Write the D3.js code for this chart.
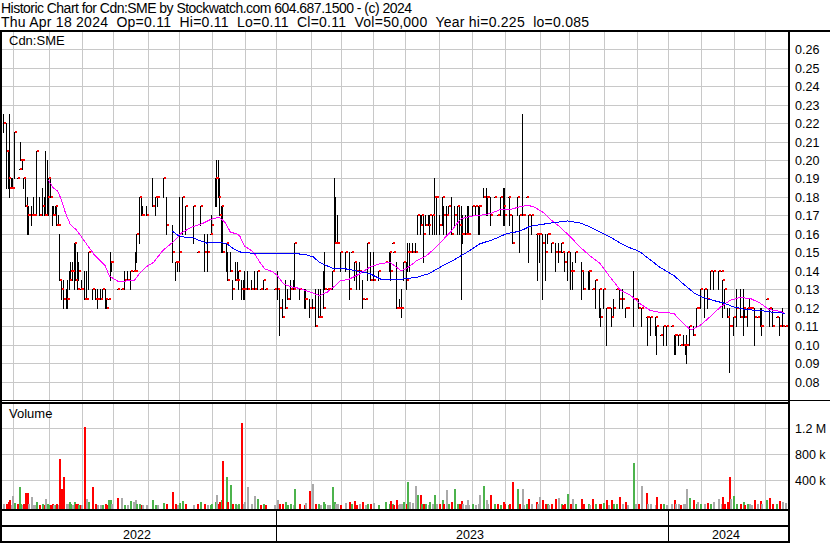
<!DOCTYPE html>
<html><head><meta charset="utf-8">
<script src="https://cdn.jsdelivr.net/npm/d3@7/dist/d3.min.js"></script>
<style>
body{margin:0;background:#fff;}
svg{display:block;font-family:Arial,"Liberation Sans",sans-serif;}
text{white-space:pre;}
</style></head><body>
<svg id="c" width="830" height="543"></svg>
<script>
// ---------- data ----------
const titleLine1 = "Historic Chart for Cdn:SME by Stockwatch.com 604.687.1500 - (c) 2024";
const titleLine2 = "Thu Apr 18 2024  Op=0.11  Hi=0.11  Lo=0.11  Cl=0.11  Vol=50,000  Year hi=0.225  lo=0.085";
const symbolLabel = "Cdn:SME";
const volumeLabel = "Volume";
const priceTicks = [26,25,24,23,22,21,20,19,18,17,16,15,14,13,12,11,10,9,8]; // cents
const volTicks = [1200,800,400]; // thousands
const volTickLabels = ["1.2 M","800 k","400 k"];
const years = ["2022","2023","2024"];
const yearStartSess = [0,175,425];
const lastSess = 499;
const monthStartSess = [7,30,51,71,93,113,134,155,175,197,216,237,257,279,300,321,343,362,384,405,425,446,467,487];

// trading session index (0 = first session shown)
const sess = [0,2,3,4,5,6,7,9,10,11, 12,13,14,15,16,18,19,20,21,23, 25,26,27,28,29,30,31,32,33,34,
 35,36,37,38,40,41,42,43,44,45, 46,47,48,49,50,52,53,54,57,59, 60,62,63,65,66,67,68,69,73,75,
 77,79,81,83,84,85,87,88,89,91, 95,97,98,102,104,108,110,111,112,114, 116,121,124,126,128,130,132,133,135,136,
 137,138,139,140,142,143,145,146,148,149, 150,152,153,154,156,158,160,162,164,166, 167,173,175,176,178,180,181,183,185,186,
 189,192,193,195,197,199,201,202,204,205, 207,208,210,211,212,213,215,218,221,222, 224,225,227,229,231,232,234,236,239,244,
 246,247,248,249,251,252,253,254,255,257, 258,259,261,263,264,266,267,268,269,271, 272,274,275,276,278,280,281,283,284,286,
 288,290,291,292,293,295,296,297,299,301, 303,304,306,308,309,311,313,315,317,319, 320,322,323,325,328,329,331,332,334,335,
 337,340,341,342,344,346,347,348,350,352, 354,356,357,358,360,362,363,365,369,370, 373,374,376,378,380,381,383,385,386,388,
 389,391,393,395,397,398,402,403,405,407, 410,411,413,416,417,419,421,423,426,428, 429,431,432,434,435,436,438,440,442,443,
 445,447,449,451,453,456,458,459,460,462, 463,464,466,468,470,472,473,475,476,477, 479,481,483,484,487,489,491,493,495,497,499];
// prices in cents
const high = [22.5,22,20.5,22.5,19,19,21.5,19,19.5,21, 20,19,19,18,17.5,17.5,18,17,20.5,18, 18.5,18,20.5,20,19,19,17.5,17.5,17.5,17.5,
 17,16,13.5,13.5,13,13.5,14,14.5,14.5,15.5, 15.5,15,14.5,13,13.5,14,14,15,13,13, 13,13,13,13,12.5,12.5,15,14.5,13,13,
 14,14,14,14,15,16,18,18,17.5,17.5, 19,18,18,19,18,16.5,14.5,14.5,18,18, 17.5,17.5,15,17.5,16,16,16,17,19,20,
 20,19,17.5,17.5,15.5,15,15,13.5,14.5,14.5, 14,13.5,13.5,14,14,13.5,14,14,13,13.5, 13,13,14,13,12.5,13.5,13,13.5,13.5,15.5,
 13,13,13,12.5,12.5,13,13,13,14,15, 13,13,14,19,18,17,15,15,15,15, 14.5,14.5,14.5,13.5,12.5,15.5,15,15,14,14.5,
 15,15,15.5,15,14.5,12,12.5,13,14.5,14.5, 15.5,15.5,15.5,15.5,17,17,17,17,17,17, 17,17,19,18,17,18,17.5,17.5,17.5,18,
 17.5,17.5,17.5,17.5,17,17,17.5,17.5,17.5,17.5, 17.5,17.5,18.5,18.5,18,18,18,17,18,18.5, 18.5,18,18,17,18,17,22.5,17,18,17,
 17,16,16,16,16,16,16,16,15.5,15.5, 15.5,15.5,15,15,15,15,14.5,15,14.5,14, 14,14,13,13.5,13,12,13,12,12,12,
 12.5,13,13,13,12,12,14,12.5,12.5,12, 11.5,11.5,11.5,11.5,11,10.5,11,11,11,10.5, 10.5,10.5,10,10.5,10,10.5,11,11,12,12,
 13,13,13,14,14,14,14,13.5,13,12, 12,11,11.5,13,13,13,12,12,12.5,12, 12,11.5,12,12,12.5,12,12,11.5,11.5,12,11];
const low = [21.5,18.5,18.5,18,18.5,18.5,19,19,19.5,20, 19.5,18.5,17.5,16,16,16.5,17,17,17,17, 17,17,17,17,17,18,16.5,17,17,16.5,
 16.5,13.5,12.5,12,12,12,13,13.5,13.5,13, 13.5,13,13.5,13,13,12.5,12.5,13,12.5,12.5, 12,12.5,12.5,12,12,12.5,13.5,14,13,13,
 13,13.5,13,14,14,14.5,15.5,17,17,17, 17.5,17,17.5,18,16,14.5,13.5,14,14,16, 16,15.5,15,16.5,14,14,16,16,17.5,17.5,
 18,17,15,15,14,13.5,14,12.5,13.5,13.5, 13,12.5,12.5,12.5,13,13,13,13,13,13, 13,13,12.5,10.5,11.5,12,12.5,12.5,13,13,
 12.5,12,12,11.5,12,11,11.5,11.5,12,13, 13,13,13,14,15.5,15.5,14,14,12.5,15, 13.5,13,13,12,12.5,13.5,13.5,13.5,13.5,14.5,
 14,13.5,15.5,15,12,12,12,11.5,13.5,13, 14,14,15,15,16,16,16.5,14.5,16.5,16.5, 16,16,16,16,16,16.5,16,16,17,16,
 16.5,16,16,12.5,15.5,16,16,16,17,17, 16,16,18,17,17,16.5,18,17,17,16.5, 16.5,18,16.5,15.5,17,15,17,17,18,14.5,
 16,16,13.5,14.5,12.5,13.5,15.5,16,15,14, 14.5,15,15,14,13.5,13,13,14.5,12.5,13, 13,13,13,12,11.5,11,12,10,12,11,
 11.5,13,12,12,11.5,12,11,12.5,12,11, 11.5,10,10.5,10.5,9.5,10.5,10,10,11,9.5, 9.5,10,10,10,9.5,9,10,10.5,11,12,
 12,11.5,12,13,13,13,14,11.5,12,11.5, 8.5,11,10.5,11,11.5,10.5,11.5,11,12,12, 10,11.5,11,10.5,12.5,11,11,11.5,10.5,11,11];
const close = [22,20.5,19,18.5,18.5,18.5,21.5,19,19.5,20, 20,19,17.5,17,17,17,17,17,20.5,17, 17.5,17,17,18,19,18,17,17,17.5,16.5,
 16.5,13.5,13,12.5,12.5,12.5,13.5,14,14,15.5, 13.5,13,14,13,13,12.5,12.5,15,13,12.5, 12.5,12.5,13,12.5,12,12.5,14.5,14.5,13,13,
 13.5,13.5,14,14,14,16,18,17,17,17, 17.5,18,18,19,16.5,15,14.5,14.5,15,18, 17.5,17.5,15,17.5,15,15,16,16.5,19,19,
 18,17,17.5,15,15.5,13.5,14,13,13.5,13.5, 14,13,13,13,13,13,13,14,13,13.5, 13,13,13,12,11.5,12,12.5,13,13,15.5,
 13,12.5,12.5,12,12,11,11.5,11.5,12,13, 13,13,14,15.5,15.5,15.5,15,15,13,15, 14.5,14,14,12.5,12.5,15.5,13.5,13.5,14,14.5,
 15,14,15.5,15,12,12,12,12,14.5,13.5, 15,15,15,15,17,16.5,17,16,16.5,16.5, 17,17,18,18,16.5,18,17,17,17.5,16,
 17,17.5,16.5,16,16,16,16,16,17.5,17.5, 17.5,17.5,18,18,18,17,18,17,18,17.5, 17,18,17,15.5,18,17,17,17,18,17,
 17,16,16,16,15.5,15,16,16,15.5,15, 15,15.5,15,14.5,15,14,14,15,14,13, 14,14,13,13.5,13,11.5,13,12,12,11.5,
 12,13,12.5,12.5,12,12,12.5,12.5,12,12, 11.5,11.5,11.5,11.5,11,10.5,11,11,11,10.5, 10.5,10.5,10,10,10,10,11,10.5,12,12,
 13,13,12.5,14,14,14,14,13.5,13,11.5, 11,11,11.5,12,11.5,12,11.5,12,12,12, 11.5,11.5,11,11,12.5,12,11,11.5,11,11,11];
// volume in thousands of shares
const volume = [40,30,60,90,20,160,50,30,300,40, 25,35,200,210,30,145,20,15,60,25, 35,20,120,30,15,25,40,20,15,35,
 20,730,270,450,40,30,60,35,20,70, 40,30,20,25,15,1220,115,60,300,30, 20,15,25,40,20,100,100,30,125,125,
 20,25,80,60,90,40,30,20,20,25, 90,20,15,50,40,220,30,20,50,80, 30,20,40,60,30,20,15,35,65,175,
 40,60,90,700,450,60,330,30,40,20, 30,1280,40,60,300,40,160,110,20,30, 15,20,90,40,30,60,20,40,25,270,
 30,20,50,240,345,40,30,20,60,40, 20,15,300,60,40,30,20,45,60,30, 80,20,35,60,20,40,30,50,20,60,
 40,80,30,20,90,20,40,30,60,40, 375,60,50,320,180,180,30,40,30,20, 60,35,180,40,30,90,40,250,30,60,
 270,40,30,80,30,20,95,20,40,20, 30,180,315,100,30,180,40,30,20,60, 30,20,40,375,270,40,270,20,30,110,
 40,60,30,140,90,40,30,20,40,110, 130,30,20,40,190,30,110,40,110,30, 40,20,115,30,40,30,50,100,20,100,
 30,40,140,30,70,20,670,30,40,315, 200,40,30,20,140,30,40,20,30,100, 40,30,20,40,30,270,125,100,40,60,
 40,30,50,40,70,120,30,140,40,60, 450,110,160,40,30,60,20,40,30,20, 100,30,80,40,100,125,40,30,80,60,50];

// moving averages (cents)
const maFastSess = [29,32,35,37,40,43,47,52,58,62,65,68,74,79,84,87,91,96,102,109,114,120,127,133,138,142,145,149,151,154,160,164,167,172,175,179,183,189,196,202,207,212,215,221,228,234,241,247,251,254,258,264,270,276,281,286,292,298,304,311,317,323,329,335,339,345,349,355,362,368,374,381,387,394,400,406,413,419,428,434,439,445,451,458,464,470,477,483,489,496,499];
const maFastVal = [18.9,18.5,18.3,17.9,17.1,16.5,16.2,15.6,14.9,14.55,14.3,13.7,13.4,13.45,13.5,13.85,14.2,14.45,15.1,15.6,16.05,16.35,16.55,16.8,16.9,16.6,16.1,16.0,15.9,15.35,15.0,14.45,14.1,13.95,13.75,13.3,13.15,13.05,12.85,12.65,12.85,13.2,13.45,13.55,13.85,14.2,14.4,14.45,14.2,14.0,14.15,14.55,14.8,15.25,15.7,16.15,16.8,16.95,17.0,17.1,17.3,17.3,17.45,17.55,17.45,17.15,16.8,16.4,15.85,15.3,14.85,14.4,13.7,12.95,12.7,12.25,11.85,11.75,11.7,11.15,10.8,11.05,11.5,12.05,12.4,12.55,12.5,12.25,11.9,11.8,11.7];
const maSlowSess = [108,112,117,121,125,130,138,143,147,152,160,168,177,192,198,202,210,219,228,234,241,247,255,264,272,279,287,296,304,313,321,330,336,343,349,360,368,374,381,387,394,400,406,413,419,428,434,441,447,453,460,466,474,483,492,499];
const maSlowVal = [16.15,15.9,15.8,15.8,15.65,15.5,15.55,15.45,15.2,15.0,14.95,14.95,14.95,14.9,14.75,14.45,14.15,14.1,13.95,13.85,13.55,13.5,13.55,13.65,13.85,14.2,14.55,15.0,15.45,15.7,16.0,16.15,16.4,16.5,16.58,16.7,16.6,16.4,16.1,15.85,15.5,15.25,15.05,14.6,14.2,13.75,13.3,12.8,12.55,12.4,12.25,12.05,11.9,11.85,11.75,11.7];

[high,low,close,volume].forEach(a=>{ if(a.length!==sess.length) throw new Error("length mismatch "+a.length+" vs "+sess.length); });
if (maFastSess.length!==maFastVal.length || maSlowSess.length!==maSlowVal.length) throw new Error("ma mismatch");

// ---------- drawing ----------
const W = 830, H = 543;
const svg = d3.select("#c").attr("shape-rendering","crispEdges");
const plotL = 2, plotR = 788;
const priceTop = 32, priceBot = 400, volTop = 403, volBot = 509;

const x = d3.scaleLinear().domain([0, lastSess]).range([3, 785]);
const yP = d3.scaleLinear().domain([8, 26]).range([381.6, 49.2]);
const yV = d3.scaleLinear().domain([0, 1600]).range([506.3, 402.3]);
const px = s => Math.round(x(s));

const gridC = "#c8c8c8";
const g = svg.append("g");

// horizontal price grid
g.selectAll("line.hp").data(priceTicks).join("line")
  .attr("x1", plotL).attr("x2", plotR)
  .attr("y1", d => Math.round(yP(d)) + 0.5).attr("y2", d => Math.round(yP(d)) + 0.5)
  .attr("stroke", gridC);
// horizontal volume grid
g.selectAll("line.hv").data(volTicks).join("line")
  .attr("x1", plotL).attr("x2", plotR)
  .attr("y1", d => Math.round(yV(d)) + 0.5).attr("y2", d => Math.round(yV(d)) + 0.5)
  .attr("stroke", gridC);
// vertical month grid (price + volume panels)
monthStartSess.forEach(s => {
  const gx = px(s) - 1 + 0.5;
  g.append("line").attr("x1", gx).attr("x2", gx).attr("y1", priceTop).attr("y2", priceBot).attr("stroke", gridC);
  g.append("line").attr("x1", gx).attr("x2", gx).attr("y1", volTop).attr("y2", volBot).attr("stroke", gridC);
});

const rows = sess.map((s,i) => ({s, hi:high[i], lo:low[i], cl:close[i], v:volume[i],
  prev: i>0 ? close[i-1] : close[i]}));

// volume bars
svg.append("g").selectAll("rect").data(rows).join("rect")
  .attr("x", d => px(d.s)).attr("width", 2)
  .attr("y", d => Math.round(yV(d.v))).attr("height", d => volBot - Math.round(yV(d.v)))
  .attr("fill", d => d.cl > d.prev ? "#4cb34c" : (d.cl < d.prev ? "#ff0000" : "#aaaaaa"));

// price bars: high-low line + close tick
const bars = svg.append("g");
bars.selectAll("rect.hl").data(rows).join("rect")
  .attr("x", d => px(d.s)).attr("width", 1)
  .attr("y", d => Math.round(yP(d.hi)))
  .attr("height", d => Math.max(1, Math.round(yP(d.lo)) - Math.round(yP(d.hi)) + 1))
  .attr("fill", "#000");
bars.selectAll("rect.cl").data(rows).join("rect")
  .attr("x", d => px(d.s) + 1).attr("width", 2)
  .attr("y", d => Math.round(yP(d.cl)) - 1).attr("height", 2)
  .attr("fill", "#ff0000");

// moving averages
const line = d3.line().x(d => x(d[0])).y(d => yP(d[1]));
svg.append("path").datum(maFastSess.map((s,i)=>[s, maFastVal[i]]))
  .attr("d", line).attr("fill","none").attr("stroke","#ff00ff").attr("stroke-width",1);
svg.append("path").datum(maSlowSess.map((s,i)=>[s, maSlowVal[i]]))
  .attr("d", line).attr("fill","none").attr("stroke","#0000ff").attr("stroke-width",1);

// frame
const fr = svg.append("g").attr("fill","#000");
fr.append("rect").attr("x",0).attr("y",30).attr("width",W).attr("height",2);
fr.append("rect").attr("x",0).attr("y",30).attr("width",2).attr("height",H-30);
fr.append("rect").attr("x",788).attr("y",30).attr("width",2).attr("height",H-30);
fr.append("rect").attr("x",0).attr("y",400).attr("width",W).attr("height",1);
fr.append("rect").attr("x",0).attr("y",402).attr("width",790).attr("height",2);
fr.append("rect").attr("x",0).attr("y",509).attr("width",790).attr("height",2);
fr.append("rect").attr("x",0).attr("y",525).attr("width",790).attr("height",2);
fr.append("rect").attr("x",0).attr("y",541).attr("width",790).attr("height",2);
yearStartSess.slice(1).forEach(s => {
  fr.append("rect").attr("x", px(s)-1).attr("y",509).attr("width",1).attr("height",H-509);
});

// texts
const T = svg.append("g").attr("fill","#000");
T.append("text").attr("x",1).attr("y",13).attr("font-size",14)
  .attr("textLength",411).attr("lengthAdjust","spacing").text(titleLine1);
T.append("text").attr("x",1).attr("y",26.5).attr("font-size",14)
  .attr("textLength",588).attr("lengthAdjust","spacing").text(titleLine2);
T.append("text").attr("x",9).attr("y",45).attr("font-size",13).text(symbolLabel);
T.append("text").attr("x",9).attr("y",418).attr("font-size",13).text(volumeLabel);

// price axis (right)
const axP = d3.axisRight(yP).tickValues(priceTicks).tickSize(0).tickPadding(0)
  .tickFormat(d => (d/100).toFixed(2));
const gP = svg.append("g").attr("transform","translate(795,0)").call(axP);
gP.select(".domain").remove();
gP.selectAll("text").attr("font-size",12.5).attr("font-family",null).attr("fill","#000").attr("dy","0.36em");

// volume axis (right)
const axV = d3.axisRight(yV).tickValues(volTicks).tickSize(0).tickPadding(0)
  .tickFormat((d,i) => volTickLabels[i]);
const gV = svg.append("g").attr("transform","translate(795,0)").call(axV);
gV.select(".domain").remove();
gV.selectAll("text").attr("font-size",12.5).attr("font-family",null).attr("fill","#000").attr("dy","0.36em");

// year labels
years.forEach((yr,i) => {
  const a = i===0 ? 2 : px(yearStartSess[i]) - 1;
  const b = i < years.length-1 ? px(yearStartSess[i+1]) - 1 : 788;
  T.append("text").attr("x",(a+b)/2 - 2).attr("y",539).attr("font-size",12.5)
    .attr("text-anchor","middle").text(yr);
});
</script>
</body></html>
